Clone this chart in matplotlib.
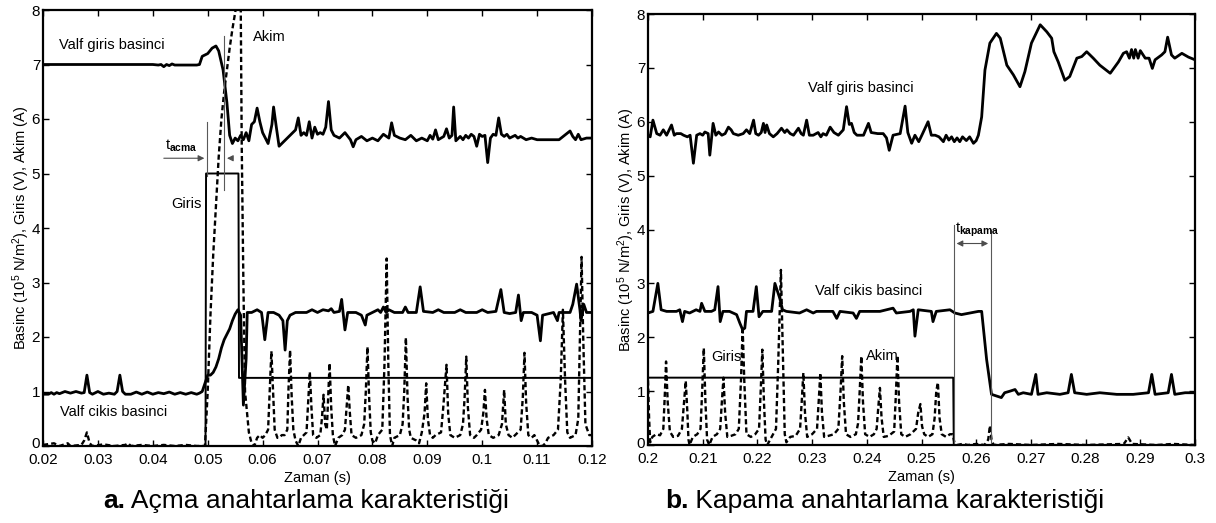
import matplotlib
matplotlib.use("Agg")
import matplotlib.pyplot as plt
import matplotlib.transforms as mtransforms
import numpy as np

plt.rcParams['font.family'] = ['Liberation Sans', 'DejaVu Sans']
plt.rcParams['mathtext.fontset'] = 'custom'
plt.rcParams['mathtext.rm'] = 'Liberation Sans'
plt.rcParams['mathtext.it'] = 'Liberation Sans:italic'
plt.rcParams['mathtext.bf'] = 'Liberation Sans:bold'

## --- a. Acma (opening) -------------------------------------------------
a_giris_bas_t = [0.020, 0.040, 0.041, 0.0415, 0.042, 0.0425, 0.043, 0.0435, 0.044, 0.048, 0.0485, 0.049,
                 0.050, 0.0508, 0.0515, 0.052, 0.0528, 0.0535, 0.054, 0.0545, 0.055, 0.0555, 0.056, 0.0565,
                 0.057, 0.0575, 0.058, 0.0585, 0.059, 0.0595, 0.060, 0.0605, 0.061, 0.0617, 0.062, 0.0625,
                 0.063, 0.064, 0.065, 0.066, 0.0665, 0.067, 0.0675, 0.068, 0.0685, 0.069, 0.0695, 0.070,
                 0.0705, 0.071, 0.0715, 0.072, 0.0725, 0.073, 0.074, 0.075, 0.076, 0.0765, 0.077, 0.078,
                 0.079, 0.080, 0.081, 0.082, 0.083, 0.0835, 0.084, 0.085, 0.086, 0.087, 0.088, 0.089,
                 0.090, 0.0905, 0.091, 0.0915, 0.092, 0.093, 0.0935, 0.094, 0.0945, 0.0948, 0.0952, 0.096,
                 0.0965, 0.097, 0.0975, 0.098, 0.0985, 0.099, 0.0995, 0.100, 0.1005, 0.101, 0.1015, 0.102,
                 0.1025, 0.103, 0.1035, 0.104, 0.1045, 0.105, 0.106, 0.1065, 0.107, 0.108, 0.109, 0.110,
                 0.112, 0.114, 0.115, 0.116, 0.1165, 0.117, 0.1175, 0.118, 0.119, 0.120]
a_giris_bas_v = [7.0, 7.0, 6.99, 7.0, 6.96, 7.0, 6.98, 7.01, 6.99, 6.99, 7.0, 7.15,
                 7.2, 7.3, 7.34, 7.25, 6.9, 6.3, 5.7, 5.55, 5.65, 5.6, 5.7, 5.62,
                 5.75, 5.6, 5.9, 5.95, 6.2, 5.95, 5.75, 5.65, 5.55, 5.9, 6.22, 5.85,
                 5.5, 5.6, 5.7, 5.8, 6.02, 5.7, 5.75, 5.7, 5.95, 5.65, 5.85, 5.72,
                 5.75, 5.72, 5.85, 6.32, 5.8, 5.7, 5.65, 5.75, 5.62, 5.49, 5.62, 5.68,
                 5.6, 5.65, 5.6, 5.72, 5.65, 5.93, 5.7, 5.65, 5.62, 5.7, 5.6, 5.65,
                 5.6, 5.7, 5.63, 5.8, 5.62, 5.68, 5.82, 5.65, 5.7, 6.22, 5.6, 5.68,
                 5.62, 5.7, 5.65, 5.72, 5.68, 5.5, 5.72, 5.68, 5.7, 5.2, 5.65, 5.72,
                 5.7, 6.02, 5.72, 5.68, 5.72, 5.65, 5.7, 5.65, 5.68, 5.62, 5.65, 5.62,
                 5.62, 5.62, 5.7, 5.78, 5.68, 5.62, 5.72, 5.62, 5.65, 5.65]

a_cikis_bas_t = [0.020, 0.021, 0.0215, 0.022, 0.0225, 0.023, 0.024, 0.025, 0.026, 0.027, 0.0275, 0.028,
                 0.0285, 0.029, 0.030, 0.031, 0.032, 0.033, 0.0335, 0.034, 0.0345, 0.035, 0.036, 0.037,
                 0.038, 0.039, 0.040, 0.041, 0.042, 0.043, 0.044, 0.045, 0.046, 0.047, 0.048, 0.0485,
                 0.049, 0.0495, 0.050, 0.0505, 0.051, 0.0515, 0.052, 0.0525, 0.053, 0.0535, 0.054, 0.0545,
                 0.055, 0.0555, 0.056, 0.0565, 0.057, 0.0572, 0.058, 0.059, 0.0598, 0.060, 0.0604, 0.061,
                 0.062, 0.063, 0.0637, 0.0641, 0.0645, 0.065, 0.066, 0.067, 0.068, 0.069, 0.070, 0.071,
                 0.072, 0.0725, 0.073, 0.074, 0.0744, 0.075, 0.0755, 0.077, 0.078, 0.0787, 0.079, 0.080,
                 0.081, 0.0815, 0.082, 0.0825, 0.083, 0.084, 0.0855, 0.086, 0.0865, 0.088, 0.0887, 0.0893,
                 0.091, 0.092, 0.093, 0.095, 0.096, 0.097, 0.099, 0.100, 0.101, 0.1025, 0.1034, 0.104,
                 0.105, 0.1061, 0.1066, 0.1071, 0.1075, 0.109, 0.110, 0.1106, 0.111, 0.113, 0.1137, 0.114,
                 0.116, 0.1165, 0.1172, 0.1178, 0.118, 0.1185, 0.119, 0.120]
a_cikis_bas_v = [0.95, 0.95, 0.98, 0.95, 0.98, 0.96, 1.0, 0.97, 1.0, 0.97, 0.98, 1.3,
                 0.98, 0.95, 1.0, 0.95, 0.97, 0.95, 1.0, 1.3, 1.0, 0.95, 0.95, 0.99,
                 0.95, 0.99, 0.95, 0.98, 0.96, 0.99, 0.95, 0.98, 0.95, 0.98, 0.95, 0.97,
                 1.0, 1.15, 1.3, 1.3, 1.35, 1.45, 1.6, 1.8, 1.95, 2.05, 2.15, 2.3,
                 2.42, 2.5, 2.4, 0.75, 1.6, 2.45, 2.45, 2.5, 2.45, 2.3, 1.95, 2.45,
                 2.45, 2.4, 2.3, 1.76, 2.3, 2.4, 2.45, 2.45, 2.45, 2.5, 2.45, 2.5,
                 2.48, 2.52, 2.45, 2.47, 2.69, 2.13, 2.45, 2.45, 2.4, 2.22, 2.4, 2.45,
                 2.5, 2.45, 2.55, 2.45, 2.5, 2.45, 2.45, 2.55, 2.45, 2.45, 2.92, 2.47,
                 2.45, 2.5, 2.45, 2.45, 2.5, 2.45, 2.45, 2.5, 2.45, 2.47, 2.87, 2.45,
                 2.43, 2.45, 2.77, 2.3, 2.45, 2.45, 2.4, 1.93, 2.4, 2.45, 2.3, 2.45,
                 2.45, 2.6, 2.97, 2.5, 2.3, 2.6, 2.45, 2.45]

a_giris_t = [0.020, 0.0496, 0.0497, 0.0556, 0.0557, 0.120]
a_giris_v = [0.0, 0.0, 5.0, 5.0, 1.25, 1.25]

a_akim_t = [0.020, 0.022, 0.023, 0.0245, 0.025, 0.027, 0.0275, 0.028, 0.0285, 0.029, 0.031, 0.033,
            0.035, 0.0355, 0.036, 0.038, 0.040, 0.042, 0.044, 0.046, 0.048, 0.0495, 0.0500, 0.0505,
            0.051, 0.0515, 0.052, 0.0525, 0.053, 0.0535, 0.054, 0.0545, 0.055, 0.0555, 0.0558, 0.0560,
            0.0562, 0.0565, 0.0568, 0.0575, 0.058, 0.0585,
            0.059, 0.0595, 0.060, 0.0605, 0.061, 0.0613, 0.0616, 0.0619, 0.0622, 0.0627, 0.063, 0.0635,
            0.064, 0.0645, 0.0647, 0.065, 0.0653, 0.0656, 0.066, 0.0665, 0.067, 0.0675, 0.068, 0.0683,
            0.0686, 0.0689, 0.0692, 0.0698, 0.0705, 0.0708, 0.0711, 0.0714, 0.0717, 0.0719, 0.0722, 0.0725,
            0.0728, 0.0732, 0.0738, 0.0745, 0.075, 0.0753, 0.0756, 0.0759, 0.0762, 0.077, 0.078, 0.0785,
            0.0788, 0.0791, 0.0794, 0.0797, 0.080, 0.0805, 0.081, 0.0818, 0.0822, 0.0826, 0.0829, 0.0832,
            0.0836, 0.084, 0.085, 0.0855, 0.0858, 0.0861, 0.0864, 0.0867, 0.087, 0.088, 0.0885, 0.089,
            0.0895, 0.0898, 0.0901, 0.0905, 0.091, 0.0915, 0.0925, 0.0929, 0.0935, 0.0938, 0.0942, 0.095,
            0.096, 0.0965, 0.0968, 0.0971, 0.0974, 0.0978, 0.0985, 0.099, 0.0998, 0.1002, 0.1005, 0.1008,
            0.1012, 0.102, 0.103, 0.1036, 0.104, 0.1043, 0.1048, 0.1055, 0.107, 0.1074, 0.1077, 0.108,
            0.1084, 0.109, 0.1095, 0.110, 0.1105, 0.111, 0.1115, 0.112, 0.113, 0.1138, 0.1143, 0.1147,
            0.1151, 0.1155, 0.116, 0.117, 0.1175, 0.1178, 0.1181, 0.1184, 0.1188, 0.1195, 0.120]
a_akim_v = [0.02, 0.05, 0.0, 0.05, 0.0, 0.02, 0.1, 0.25, 0.05, 0.0, 0.03, 0.0,
            0.02, 0.05, 0.0, 0.02, 0.0, 0.02, 0.0, 0.02, 0.0, 0.0, 1.0, 2.4,
            3.5, 4.4, 5.3, 6.0, 6.5, 6.9, 7.3, 7.65, 7.95, 8.3, 8.5, 8.3,
            5.5, 3.0, 1.0, 0.25, 0.05, 0.0,
            0.15, 0.2, 0.15, 0.2, 0.3, 1.0, 1.74, 1.0, 0.3, 0.15, 0.15, 0.2,
            0.2, 0.3, 1.0, 1.76, 0.9, 0.3, 0.1, 0.0, 0.15, 0.2, 0.25, 0.8,
            1.36, 0.7, 0.2, 0.15, 0.2, 0.5, 0.94, 0.4, 0.3, 0.8, 1.52, 0.7,
            0.2, 0.0, 0.15, 0.2, 0.3, 0.7, 1.12, 0.6, 0.2, 0.15, 0.2, 0.4,
            1.0, 1.82, 0.9, 0.25, 0.1, 0.05, 0.2, 0.3, 1.5, 3.44, 1.5, 0.2,
            0.0, 0.15, 0.2, 0.4, 1.0, 1.99, 0.9, 0.3, 0.15, 0.1, 0.05, 0.25,
            0.6, 1.15, 0.5, 0.2, 0.15, 0.2, 0.25, 0.7, 1.49, 0.6, 0.2, 0.15,
            0.2, 0.4, 0.9, 1.64, 0.7, 0.2, 0.15, 0.2, 0.3, 0.6, 1.03, 0.5,
            0.2, 0.15, 0.2, 0.4, 1.03, 0.4, 0.2, 0.15, 0.3, 0.9, 1.71, 0.8,
            0.2, 0.15, 0.2, 0.1, 0.0, 0.0, 0.05, 0.15, 0.2, 0.3, 1.2, 2.5,
            1.2, 0.25, 0.15, 0.2, 0.5, 2.0, 3.47, 2.0, 0.4, 0.2, 0.2]

## --- b. Kapama (closing) -----------------------------------------------
b_giris_bas_t = [0.2000, 0.2004, 0.2009, 0.2016, 0.2022, 0.2028, 0.2034, 0.2043, 0.2048, 0.2052, 0.2060, 0.2065,
                 0.2072, 0.2077, 0.2083, 0.2089, 0.2095, 0.2100, 0.2104, 0.2110, 0.2113, 0.2119, 0.2124, 0.2129,
                 0.2135, 0.2141, 0.2147, 0.2152, 0.2156, 0.2165, 0.2174, 0.2180, 0.2186, 0.2193, 0.2197, 0.2202,
                 0.2207, 0.2211, 0.2214, 0.2217, 0.2222, 0.2229, 0.2236, 0.2244, 0.2250, 0.2254, 0.2260, 0.2266,
                 0.2275, 0.2280, 0.2284, 0.2290, 0.2295, 0.2302, 0.2311, 0.2316, 0.2320, 0.2326, 0.2333, 0.2340,
                 0.2348, 0.2357, 0.2363, 0.2368, 0.2372, 0.2377, 0.2382, 0.2394, 0.2403, 0.2408, 0.2420, 0.2430,
                 0.2436, 0.2441, 0.2448, 0.2461, 0.2470, 0.2475, 0.2482, 0.2488, 0.2495, 0.2502, 0.2512, 0.2518,
                 0.2525, 0.2532, 0.2540, 0.2545, 0.2550, 0.2555, 0.2560, 0.2565, 0.2570, 0.2575, 0.2582, 0.2588,
                 0.2595, 0.2600, 0.2604, 0.2610, 0.2616, 0.2625, 0.2637, 0.2644, 0.2656, 0.2668, 0.2680, 0.2689,
                 0.2701, 0.2717, 0.2729, 0.2738, 0.2742, 0.2750, 0.2762, 0.2771, 0.2784, 0.2793, 0.2802, 0.2814,
                 0.2826, 0.2845, 0.2860, 0.2869, 0.2875, 0.2880, 0.2884, 0.2888, 0.2891, 0.2896, 0.2900, 0.2909,
                 0.2916, 0.2922, 0.2927, 0.2939, 0.2945, 0.2950, 0.2957, 0.2963, 0.2976, 0.2988, 0.3000]
b_giris_bas_v = [5.75, 5.72, 6.03, 5.78, 5.75, 5.85, 5.75, 5.94, 5.75, 5.78, 5.78, 5.75,
                 5.72, 5.75, 5.23, 5.75, 5.78, 5.75, 5.81, 5.78, 5.38, 5.97, 5.75, 5.81,
                 5.75, 5.78, 5.9, 5.85, 5.78, 5.75, 5.78, 5.85, 5.78, 6.03, 5.78, 5.75,
                 5.8, 5.97, 5.8, 5.94, 5.78, 5.72, 5.78, 5.88, 5.8, 5.85, 5.78, 5.75,
                 5.88, 5.78, 5.75, 6.03, 5.75, 5.75, 5.8, 5.72, 5.78, 5.75, 5.9, 5.8,
                 5.75, 5.85, 6.28, 5.95, 5.97, 5.8, 5.75, 5.75, 5.97, 5.8, 5.78, 5.78,
                 5.7, 5.47, 5.75, 5.78, 6.29, 5.8, 5.6, 5.75, 5.63, 5.78, 6.0, 5.75,
                 5.75, 5.72, 5.63, 5.75, 5.66, 5.72, 5.63, 5.7, 5.63, 5.72, 5.65, 5.72,
                 5.6, 5.65, 5.75, 6.09, 6.96, 7.46, 7.64, 7.55, 7.05, 6.87, 6.65, 6.93,
                 7.46, 7.8, 7.67, 7.55, 7.3, 7.11, 6.77, 6.84, 7.18, 7.21, 7.3, 7.18,
                 7.05, 6.9, 7.11, 7.27, 7.3, 7.18, 7.34, 7.18, 7.34, 7.18, 7.32, 7.18,
                 7.18, 6.99, 7.15, 7.24, 7.3, 7.57, 7.24, 7.18, 7.27, 7.2, 7.15]

b_cikis_bas_t = [0.2000, 0.2009, 0.2018, 0.2024, 0.2034, 0.2052, 0.2058, 0.2063, 0.2067, 0.2076, 0.2088, 0.2095,
                 0.2098, 0.2104, 0.2116, 0.2122, 0.2128, 0.2132, 0.2137, 0.2149, 0.2162, 0.2168, 0.2173, 0.2177,
                 0.2180, 0.2192, 0.2198, 0.2203, 0.2210, 0.2226, 0.2232, 0.2241, 0.2246, 0.2253, 0.2277, 0.2290,
                 0.2302, 0.2308, 0.2338, 0.2345, 0.2351, 0.2375, 0.2381, 0.2387, 0.2424, 0.2448, 0.2454, 0.2479,
                 0.2485, 0.2488, 0.2494, 0.2518, 0.2521, 0.2527, 0.2552, 0.2561, 0.2573, 0.2604, 0.2610, 0.2619,
                 0.2628, 0.2637, 0.2646, 0.2652, 0.2662, 0.2671, 0.2677, 0.2686, 0.2701, 0.2709, 0.2713, 0.2729,
                 0.2753, 0.2768, 0.2774, 0.2780, 0.2802, 0.2826, 0.2857, 0.2887, 0.2915, 0.2921, 0.2927, 0.2951,
                 0.2957, 0.2963, 0.2982, 0.3000]
b_cikis_bas_v = [2.45, 2.48, 3.0, 2.51, 2.48, 2.48, 2.51, 2.29, 2.48, 2.45, 2.51, 2.48,
                 2.63, 2.48, 2.48, 2.51, 2.94, 2.29, 2.48, 2.48, 2.42, 2.26, 2.14, 2.17,
                 2.48, 2.48, 2.94, 2.38, 2.48, 2.48, 3.0, 2.72, 2.51, 2.48, 2.45, 2.51,
                 2.45, 2.48, 2.48, 2.35, 2.48, 2.45, 2.35, 2.48, 2.48, 2.54, 2.45, 2.48,
                 2.51, 2.02, 2.51, 2.48, 2.29, 2.48, 2.51, 2.45, 2.42, 2.48, 2.48, 1.59,
                 0.94, 0.91, 0.88, 0.97, 1.0, 1.03, 0.94, 0.97, 0.94, 1.31, 0.94, 0.97,
                 0.94, 0.97, 1.31, 0.97, 0.94, 0.97, 0.94, 0.94, 0.97, 1.31, 0.94, 0.97,
                 1.31, 0.94, 0.97, 0.97]

b_giris_t = [0.2000, 0.2558, 0.2559, 0.3000]
b_giris_v = [1.25, 1.25, 0.0, 0.0]

b_akim_t = [0.2000, 0.2002, 0.2004, 0.2008, 0.2015, 0.2022, 0.2028, 0.2031, 0.2033, 0.2036, 0.2040, 0.2046,
            0.2055, 0.2062, 0.2066, 0.2069, 0.2072, 0.2074, 0.2076, 0.2082, 0.2090, 0.2096, 0.2099, 0.2102,
            0.2105, 0.2108, 0.2112, 0.2118, 0.2126, 0.2132, 0.2135, 0.2138, 0.2141, 0.2145, 0.2152, 0.2160,
            0.2166, 0.2170, 0.2173, 0.2176, 0.2180, 0.2188, 0.2196, 0.2203, 0.2206, 0.2209, 0.2212, 0.2215,
            0.2218, 0.2226, 0.2234, 0.2238, 0.2243, 0.2247, 0.2250, 0.2253, 0.2260, 0.2270, 0.2278, 0.2281,
            0.2284, 0.2287, 0.2291, 0.2300, 0.2309, 0.2312, 0.2315, 0.2318, 0.2322, 0.2330, 0.2340, 0.2348,
            0.2352, 0.2355, 0.2358, 0.2362, 0.2370, 0.2380, 0.2384, 0.2387, 0.2390, 0.2393, 0.2397, 0.2405,
            0.2413, 0.2418, 0.2421, 0.2424, 0.2427, 0.2431, 0.2440, 0.2450, 0.2453, 0.2456, 0.2459, 0.2463,
            0.2470, 0.2480, 0.2490, 0.2494, 0.2498, 0.2501, 0.2505, 0.2512, 0.2520, 0.2524, 0.2527, 0.2530,
            0.2533, 0.2537, 0.2545, 0.2552, 0.2557, 0.2560, 0.2565, 0.2575, 0.2585, 0.2600, 0.2615, 0.2622,
            0.2625, 0.2628, 0.2632, 0.2660, 0.2700, 0.2750, 0.2800, 0.2870, 0.2878, 0.2885, 0.2930, 0.2960,
            0.3000]
b_akim_v = [1.2, 0.5, 0.05, 0.15, 0.2, 0.18, 0.3, 1.0, 1.55, 0.8, 0.25, 0.15,
            0.17, 0.3, 0.8, 1.19, 0.6, 0.1, 0.0, 0.15, 0.2, 0.3, 1.0, 1.8,
            0.8, 0.1, 0.0, 0.15, 0.2, 0.3, 0.8, 1.25, 0.6, 0.15, 0.17, 0.2,
            0.3, 1.2, 2.2, 1.2, 0.2, 0.15, 0.2, 0.3, 1.0, 1.77, 0.8, 0.1,
            0.0, 0.15, 0.3, 1.5, 3.25, 1.5, 0.2, 0.05, 0.15, 0.17, 0.3, 0.8,
            1.34, 0.6, 0.15, 0.2, 0.3, 0.8, 1.34, 0.6, 0.15, 0.17, 0.2, 0.3,
            1.0, 1.65, 0.8, 0.2, 0.15, 0.2, 0.4, 1.0, 1.65, 0.8, 0.2, 0.15,
            0.2, 0.3, 0.7, 1.06, 0.5, 0.15, 0.17, 0.25, 0.9, 1.66, 0.8, 0.2,
            0.15, 0.2, 0.3, 0.6, 0.76, 0.35, 0.2, 0.15, 0.2, 0.5, 1.0, 1.16,
            0.5, 0.2, 0.15, 0.2, 0.2, 0.05, 0.0, 0.02, 0.0, 0.02, 0.0, 0.1,
            0.36, 0.1, 0.0, 0.02, 0.0, 0.02, 0.0, 0.02, 0.14, 0.02, 0.0, 0.02,
            0.0]

W, H = 1216, 523
fig = plt.figure(figsize=(W / 100, H / 100), dpi=100)


def px_axes(x0, y0, x1, y1):
    # axes box given in pixel coordinates of the reference (top-left origin)
    return fig.add_axes([x0 / W, (H - y1) / H, (x1 - x0) / W, (y1 - y0) / H])


def style(ax, xmin, xmax):
    ax.set_xlim(xmin, xmax)
    ax.set_ylim(0, 8)
    ax.set_xticks(np.round(np.linspace(xmin, xmax, 11), 3))
    ax.set_yticks(range(0, 9))
    ax.xaxis.set_major_formatter(matplotlib.ticker.FuncFormatter(lambda v, p: ('%g' % round(v, 3))))
    ax.tick_params(direction='in', top=True, right=True, length=4, width=1, labelsize=11)
    ax.tick_params(axis='y', pad=2)
    ax.tick_params(axis='x', pad=5)
    for s in ax.spines.values():
        s.set_linewidth(1.6)
    ax.set_xlabel('Zaman (s)', fontsize=10.5, labelpad=3)
    ax.set_ylabel('Basinc (10$^5$ N/m$^2$), Giris (V), Akim (A)', fontsize=10.5, labelpad=0)
    # lift the "0" a bit so it clears the first x tick label
    lab0 = ax.get_yticklabels()[0]
    lab0.set_transform(lab0.get_transform() +
                       mtransforms.ScaledTranslation(0, 3 / 100, fig.dpi_scale_trans))


dash = (0, (2.2, 1.3))

ax1 = px_axes(43, 10, 592, 446)
style(ax1, 0.02, 0.12)
ax1.plot(a_giris_t, a_giris_v, color='k', lw=1.4)
ax1.plot(a_akim_t, a_akim_v, color='k', lw=1.7, linestyle=dash)
ax1.plot(a_cikis_bas_t, a_cikis_bas_v, color='k', lw=2.0)
ax1.plot(a_giris_bas_t, a_giris_bas_v, color='k', lw=2.0)
ax1.plot([0.0499, 0.0499], [4.95, 5.95], color='0.35', lw=0.8)
ax1.plot([0.0530, 0.0530], [4.7, 7.52], color='0.35', lw=0.8)
ax1.annotate('', xy=(0.0499, 5.28), xytext=(0.0415, 5.28),
             arrowprops=dict(arrowstyle='-|>', color='0.3', lw=0.8, mutation_scale=9))
ax1.annotate('', xy=(0.0530, 5.28), xytext=(0.0548, 5.28),
             arrowprops=dict(arrowstyle='-|>', color='0.3', lw=0.8, mutation_scale=9))
ax1.text(0.0229, 7.36, 'Valf giris basinci', fontsize=10.5, va='center')
ax1.text(0.0583, 7.5, 'Akim', fontsize=10.5, va='center')
ax1.text(0.0489, 4.44, 'Giris', fontsize=10.5, va='center', ha='right')
ax1.text(0.0231, 0.63, 'Valf cikis basinci', fontsize=10.5, va='center')
ax1.text(0.0422, 5.5, r'$\mathrm{t}_{\mathbf{acma}}$', fontsize=10.5, va='center')

ax2 = px_axes(648, 14, 1195, 445)
style(ax2, 0.2, 0.3)
ax2.plot(b_giris_t, b_giris_v, color='k', lw=1.4)
ax2.plot(b_akim_t, b_akim_v, color='k', lw=1.7, linestyle=dash)
ax2.plot(b_cikis_bas_t, b_cikis_bas_v, color='k', lw=2.0)
ax2.plot(b_giris_bas_t, b_giris_bas_v, color='k', lw=2.0)
ax2.plot([0.2559, 0.2559], [0, 4.08], color='0.35', lw=0.8)
ax2.plot([0.2627, 0.2627], [0, 4.0], color='0.35', lw=0.8)
ax2.annotate('', xy=(0.2559, 3.74), xytext=(0.2627, 3.74),
             arrowprops=dict(arrowstyle='<|-|>', color='0.3', lw=0.8, mutation_scale=9))
ax2.text(0.2293, 6.62, 'Valf giris basinci', fontsize=10.5, va='center')
ax2.text(0.2305, 2.85, 'Valf cikis basinci', fontsize=10.5, va='center')
ax2.text(0.2115, 1.63, 'Giris', fontsize=10.5, va='center')
ax2.text(0.2398, 1.66, 'Akim', fontsize=10.5, va='center')
ax2.text(0.2561, 4.0, r'$\mathrm{t}_{\mathbf{kapama}}$', fontsize=10.5, va='center')

# captions: bold letter + normal text placed right after it
renderer = fig.canvas.get_renderer()
for x_left, letter, rest in [(103, 'a.', ' Açma anahtarlama karakteristiği'),
                             (665, 'b.', ' Kapama anahtarlama karakteristiği')]:
    t_b = fig.text(x_left / W, (H - 508) / H, letter, fontsize=19, fontweight='bold',
                   ha='left', va='baseline')
    wb = t_b.get_window_extent(renderer).width
    fig.text((x_left + wb) / W, (H - 508) / H, rest, fontsize=19, ha='left', va='baseline')

fig.savefig('out.png', dpi=100)
